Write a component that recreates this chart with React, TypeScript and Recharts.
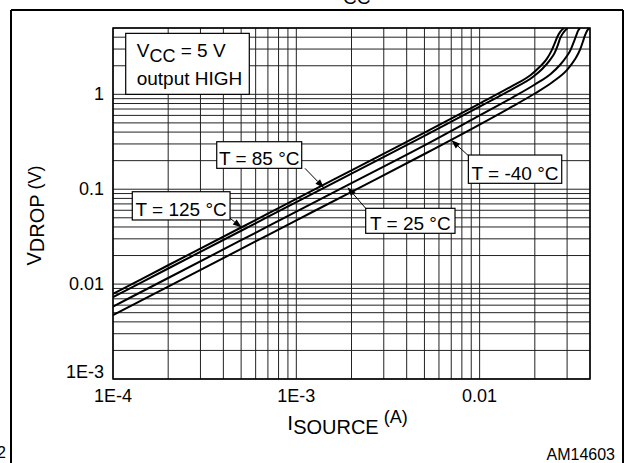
import React from 'react';
import { LineChart, Line, XAxis, YAxis, CartesianGrid, ReferenceArea, ReferenceLine } from 'recharts';

const FONT = '"Liberation Sans", Arial, sans-serif';

// log grid ticks
const xTicks = [
  0.0001, 0.0002, 0.0003, 0.0004, 0.0005, 0.0006, 0.0007, 0.0008, 0.0009,
  0.001, 0.002, 0.003, 0.004, 0.005, 0.006, 0.007, 0.008, 0.009,
  0.01, 0.02, 0.03, 0.04,
];
const yTicks = [
  0.001, 0.002, 0.003, 0.004, 0.005, 0.006, 0.007, 0.008, 0.009,
  0.01, 0.02, 0.03, 0.04, 0.05, 0.06, 0.07, 0.08, 0.09,
  0.1, 0.2, 0.3, 0.4, 0.5, 0.6, 0.7, 0.8, 0.9,
  1, 2, 3, 4, 5,
];
const xLabelValues = [0.0001, 0.001, 0.01];
const xLabelTexts = ['1E-4', '1E-3', '0.01'];
const yLabelValues = [0.001, 0.01, 0.1, 1];
const yLabelTexts = ['1E-3', '0.01', '0.1', '1'];

// T = 125 °C
const iT125 = [0.0001, 0.0002, 0.0005, 0.001, 0.002, 0.005, 0.01, 0.015, 0.019, 0.0213, 0.0232, 0.0246, 0.0256, 0.0264, 0.0275, 0.0289];
const vT125 = [0.0079, 0.0158, 0.0395, 0.079, 0.158, 0.395, 0.8, 1.22, 1.6, 1.95, 2.35, 2.85, 3.4, 3.95, 4.55, 5.0];
// T = 85 °C
const iT85 = [0.0001, 0.0002, 0.0005, 0.001, 0.002, 0.005, 0.01, 0.015, 0.0195, 0.022, 0.024, 0.0257, 0.0267, 0.0275, 0.0287, 0.0302];
const vT85 = [0.0073, 0.0146, 0.0365, 0.073, 0.146, 0.365, 0.74, 1.13, 1.52, 1.86, 2.25, 2.75, 3.3, 3.9, 4.5, 5.0];
// T = 25 °C
const iT25 = [0.0001, 0.0002, 0.0005, 0.001, 0.002, 0.005, 0.01, 0.015, 0.02, 0.0245, 0.0275, 0.0298, 0.0315, 0.0327, 0.0337, 0.0343, 0.0353];
const vT25 = [0.0058, 0.0116, 0.029, 0.058, 0.116, 0.29, 0.6, 0.92, 1.27, 1.65, 2.05, 2.5, 3.0, 3.6, 4.2, 4.6, 5.0];
// T = -40 °C
const iTm40 = [0.0001, 0.0002, 0.0005, 0.001, 0.002, 0.005, 0.01, 0.015, 0.02, 0.025, 0.0299, 0.0332, 0.0353, 0.0366, 0.0376, 0.0385, 0.0396];
const vTm40 = [0.0047, 0.0094, 0.0235, 0.047, 0.094, 0.235, 0.48, 0.74, 1.02, 1.35, 1.8, 2.35, 2.95, 3.6, 4.2, 4.65, 5.0];

const toPoints = (is: number[], vs: number[]) => is.map((i, k) => ({ i, v: vs[k] }));
const series = [
  { name: 'T = 125 °C', data: toPoints(iT125, vT125) },
  { name: 'T = 85 °C', data: toPoints(iT85, vT85) },
  { name: 'T = 25 °C', data: toPoints(iT25, vT25) },
  { name: 'T = -40 °C', data: toPoints(iTm40, vTm40) },
];

// annotation boxes (data units) and arrows
const tempBoxes = [
  { text: 'T = 85 °C', x1: 0.000368, x2: 0.00107, y1: 0.166, y2: 0.3166 },
  { text: 'T = 125 °C', x1: 0.0001274, x2: 0.000435, y1: 0.0474, y2: 0.0941 },
  { text: 'T = 25 °C', x1: 0.00239, x2: 0.00734, y1: 0.0343, y2: 0.0629 },
  { text: 'T = -40 °C', x1: 0.00868, x2: 0.02804, y1: 0.1154, y2: 0.2293 },
];
const arrows = [
  [{ x: 0.001115, y: 0.166 }, { x: 0.001416, y: 0.103 }],
  [{ x: 0.000435, y: 0.0494 }, { x: 0.000504, y: 0.0395 }],
  [{ x: 0.00239, y: 0.0629 }, { x: 0.0019, y: 0.105 }],
  [{ x: 0.00868, y: 0.226 }, { x: 0.007, y: 0.33 }],
];

const near = (a: number, b: number) => Math.abs(a - b) < b * 1e-6;

const XTick = (props: any) => {
  const { x, y, payload } = props;
  const k = xLabelValues.findIndex((t) => near(payload.value, t));
  if (k < 0) return <g />;
  return (
    <text x={x} y={y + 23} textAnchor="middle" fontSize={18} fontFamily={FONT} fill="#000">
      {xLabelTexts[k]}
    </text>
  );
};

const YTick = (props: any) => {
  const { x, y, payload } = props;
  const k = yLabelValues.findIndex((t) => near(payload.value, t));
  if (k < 0) return <g />;
  const dy = k === 0 ? -1 : 6;
  return (
    <text x={x - 9} y={y + dy} textAnchor="end" fontSize={18} fontFamily={FONT} fill="#000">
      {yLabelTexts[k]}
    </text>
  );
};

const XLabel = (props: any) => {
  const { x, y, width } = props.viewBox;
  return (
    <text x={x + width / 2 - 4} y={y + 51} textAnchor="middle" fontFamily={FONT} fill="#000">
      <tspan fontSize={21}>I</tspan>
      <tspan fontSize={20} dy={4}>SOURCE</tspan>
      <tspan fontSize={18} dy={-11}> (A)</tspan>
    </text>
  );
};

const YLabel = (props: any) => {
  const { y, height } = props.viewBox;
  const cx = 41;
  const cy = y + height / 2 + 12;
  return (
    <text x={cx} y={cy} transform={`rotate(-90, ${cx}, ${cy})`} textAnchor="middle" fontFamily={FONT} fill="#000">
      <tspan fontSize={20}>V</tspan>
      <tspan fontSize={20} dy={3}>DROP</tspan>
      <tspan fontSize={18} dy={-3}> (V)</tspan>
    </text>
  );
};

const tempBoxShape = (text: string) => (p: any) => {
  const { x, y, width, height } = p;
  return (
    <g>
      <rect x={x} y={y} width={width} height={height} fill="#fff" stroke="#000" strokeWidth={1.2} />
      <text x={x + width / 2} y={y + height - 3.5} textAnchor="middle" fontSize={19} fontFamily={FONT} fill="#000">
        {text}
      </text>
    </g>
  );
};

const vccBoxShape = (p: any) => {
  const { x, y, width, height } = p;
  return (
    <g>
      <rect x={x} y={y} width={width} height={height} fill="#fff" stroke="#000" strokeWidth={1.2} />
      <text x={x + 11} y={y + 24} fontSize={19} fontFamily={FONT} fill="#000">
        <tspan>V</tspan>
        <tspan fontSize={18} dy={5}>CC</tspan>
        <tspan dy={-5}> = 5 V</tspan>
      </text>
      <text x={x + 11} y={y + 52} fontSize={19} fontFamily={FONT} fill="#000">
        output HIGH
      </text>
    </g>
  );
};

const ArrowShape = (p: any) => {
  const { x1, y1, x2, y2 } = p;
  const ang = Math.atan2(y2 - y1, x2 - x1);
  const L = 9;
  const W = 3.2;
  const bx = x2 - L * Math.cos(ang);
  const by = y2 - L * Math.sin(ang);
  const px = -Math.sin(ang) * W;
  const py = Math.cos(ang) * W;
  return (
    <g>
      <line x1={x1} y1={y1} x2={bx} y2={by} stroke="#000" strokeWidth={1} />
      <polygon points={`${x2},${y2} ${bx + px},${by + py} ${bx - px},${by - py}`} fill="#000" />
    </g>
  );
};

export default function App() {
  return (
    <div style={{ position: 'absolute', left: 0, top: 0, width: 625, height: 463, background: '#fff', overflow: 'hidden' }}>
      <svg width={625} height={463} style={{ position: 'absolute', left: 0, top: 0 }}>
        <line x1={11} y1={10} x2={623} y2={10} stroke="#000" strokeWidth={2} />
        <line x1={11} y1={10} x2={11} y2={463} stroke="#000" strokeWidth={2} />
        <line x1={623} y1={10} x2={623} y2={463} stroke="#000" strokeWidth={2} />
        <text x={343} y={3.5} fontSize={19} fontFamily={FONT} fill="#000">CC</text>
        <text x={6} y={458} textAnchor="end" fontSize={16} fontFamily={FONT} fill="#000">2</text>
        <text x={615} y={460} textAnchor="end" fontSize={16} fontFamily={FONT} fill="#000">AM14603</text>
      </svg>
      <div style={{ position: 'absolute', left: 0, top: 0 }}>
        <LineChart width={625} height={463} margin={{ top: 28, right: 35, bottom: 83, left: 112 }}>
          <CartesianGrid stroke="#222" strokeWidth={1} />
          <XAxis
            type="number"
            dataKey="i"
            scale="log"
            domain={[0.0001, 0.04]}
            allowDataOverflow
            ticks={xTicks}
            interval={0}
            tick={XTick}
            tickLine={false}
            axisLine={false}
            tickSize={0}
            tickMargin={0}
            height={1}
            label={XLabel}
          />
          <YAxis
            type="number"
            dataKey="v"
            scale="log"
            domain={[0.001, 5]}
            allowDataOverflow
            ticks={yTicks}
            interval={0}
            tick={YTick}
            tickLine={false}
            axisLine={false}
            tickSize={0}
            tickMargin={0}
            width={1}
            label={YLabel}
          />
          <ReferenceArea x1={0.0001} x2={0.04} y1={0.001} y2={5} fill="none" stroke="#000" strokeWidth={1.5} />
          <ReferenceArea x1={0.0001173} x2={0.000554} y1={1.0} y2={4.39} shape={vccBoxShape} />
          {tempBoxes.map((b) => (
            <ReferenceArea key={b.text} x1={b.x1} x2={b.x2} y1={b.y1} y2={b.y2} shape={tempBoxShape(b.text)} />
          ))}
          {arrows.map((seg, k) => (
            <ReferenceLine key={k} segment={seg} shape={ArrowShape} />
          ))}
          {series.map((s) => (
            <Line
              key={s.name}
              name={s.name}
              data={s.data}
              dataKey="v"
              type="monotone"
              stroke="#000"
              strokeWidth={2}
              dot={false}
              activeDot={false}
              isAnimationActive={false}
            />
          ))}
        </LineChart>
      </div>
    </div>
  );
}
